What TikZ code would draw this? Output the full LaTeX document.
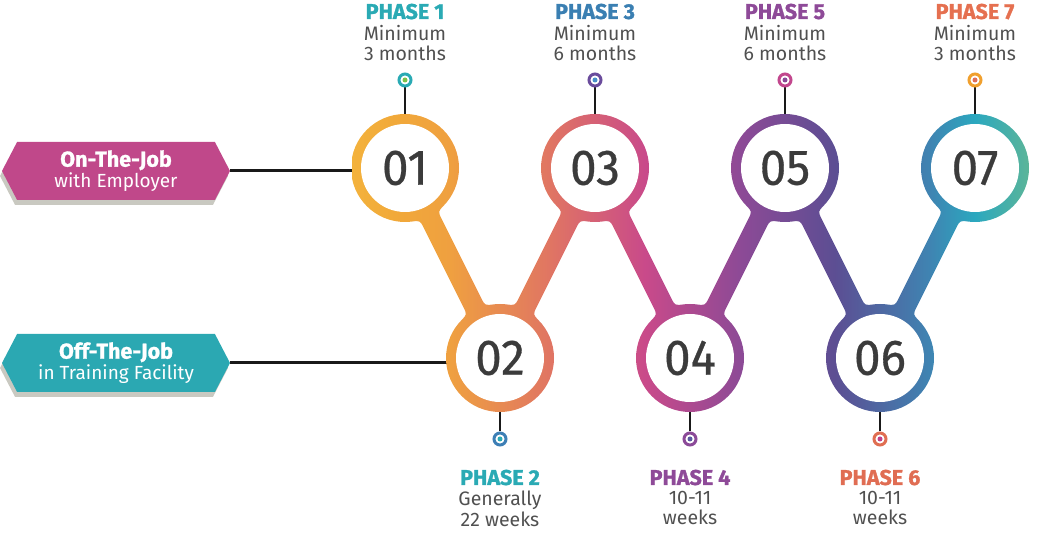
\documentclass[tikz,border=0pt]{standalone}
\usepackage{fontspec}
\setmainfont{Fira Sans}
\newfontfamily\numfont{Fira Sans}[FakeStretch=0.95,FakeBold=0.6]
\newfontfamily\headfont{Fira Sans}[FakeBold=1.2]
\usetikzlibrary{calc,shapes.symbols,shadows}
\pgfdeclarelayer{bg}
\pgfsetlayers{bg,main}
\definecolor{r0}{HTML}{F3B23C}
\definecolor{r1}{HTML}{F1A83A}
\definecolor{r2}{HTML}{EFA040}
\definecolor{r3}{HTML}{E07563}
\definecolor{r4}{HTML}{C94A8A}
\definecolor{r5}{HTML}{8D4A96}
\definecolor{r6}{HTML}{5C4E93}
\definecolor{r7}{HTML}{3F84B2}
\definecolor{r8}{HTML}{2BA8BF}
\definecolor{r9}{HTML}{5CB598}
\definecolor{hteal}{HTML}{2AAAB4}
\definecolor{hblue}{HTML}{3A7FB2}
\definecolor{hpurple}{HTML}{8E4A98}
\definecolor{hsalmon}{HTML}{E57050}
\definecolor{hsalmonb}{HTML}{E06D53}
\definecolor{descgray}{HTML}{505050}
\definecolor{numgray}{HTML}{3B3B3B}
\definecolor{tagmag}{HTML}{C0488A}
\definecolor{tagteal}{HTML}{2BA8B2}
\definecolor{shadowc}{HTML}{C9C9C1}
\definecolor{dgreen}{HTML}{7DC24B}
\definecolor{dblue}{HTML}{3D7FB5}
\definecolor{dlblue}{HTML}{4A90C8}
\definecolor{dpurple}{HTML}{6A4C9C}
\definecolor{dmag}{HTML}{C2478D}
\definecolor{dpurple2}{HTML}{8B4A98}
\definecolor{dindigo}{HTML}{5A5AA0}
\definecolor{dorange}{HTML}{F0A02E}
\definecolor{dsalmon}{HTML}{E0705A}
\definecolor{dsalmon2}{HTML}{E06E52}
\definecolor{dmag2}{HTML}{C0408A}
\pgfdeclarehorizontalshading{ring}{100bp}{color(0bp)=(r0); color(25bp)=(r0); color(28.54bp)=(r1); color(32.23bp)=(r2); color(39.6bp)=(r3); color(46.61bp)=(r4); color(53.61bp)=(r5); color(60.62bp)=(r6); color(67.63bp)=(r7); color(70.94bp)=(r8); color(75bp)=(r9); color(100bp)=(r9)}
\begin{document}
\begin{tikzpicture}[x=1pt,y=1pt,
  num/.style={circle, fill=white, minimum size=88pt, inner sep=0pt, text=numgray, font=\numfont\fontsize{50}{50}\selectfont},
  head/.style={font=\headfont\bfseries\fontsize{21.5}{21.5}\selectfont, anchor=base, inner sep=0pt},
  desc/.style={font=\fontsize{19.5}{20.5}\selectfont, text=descgray, align=center, anchor=north, inner sep=0pt},
  dotm/.style 2 args={circle, draw=#1, line width=3pt, fill=white, minimum size=12pt, inner sep=0pt,
    path picture={\fill[#2] (path picture bounding box.center) circle (2.5pt);}},
  stem/.style={draw=black!90, line width=2.5pt},
  sideline/.style={draw=black!90, line width=3pt},
  tag/.style={signal, signal to=east and west, signal pointer angle=125, minimum width=228pt, minimum height=58pt,
    inner sep=0pt, text=white, align=center, font=\fontsize{19}{21}\selectfont,
    drop shadow={shadow xshift=-2pt, shadow yshift=-5pt, fill=shadowc, opacity=1}}
]
\useasboundingbox (0,0) rectangle (1050,540);
\coordinate (T1) at (405,372);
\coordinate (B2) at (500,182);
\coordinate (T3) at (595,372);
\coordinate (B4) at (690,182);
\coordinate (T5) at (785,372);
\coordinate (B6) at (880,182);
\coordinate (T7) at (975,372);

% ring path with bands and fillets
\begin{scope}
\clip
  \foreach \c in {T1,B2,T3,B4,T5,B6,T7}{ ($(\c)+(54,0)$) arc[start angle=0,end angle=360,radius=54] }
  \foreach \a/\b in {T1/B2,B2/T3,T3/B4,B4/T5,T5/B6,B6/T7}{
    ($(\a)!10pt!-90:(\b)$) -- ($(\b)!10pt!90:(\a)$) -- ($(\b)!10pt!-90:(\a)$) -- ($(\a)!10pt!90:(\b)$) -- cycle }
  \foreach \c/\t in {T1/-63.435,B2/116.565,B2/63.435,T3/243.435,T3/-63.435,B4/116.565,B4/63.435,T5/243.435,T5/-63.435,B6/116.565,B6/63.435,T7/243.435}{
    (\c) -- ($(\c)+(\t:50.91)+({\t-90}:18)$) .. controls ($(\c)+(\t:53.73)+({\t-90}:10)$) .. ($(\c)+(\t:62.23)+({\t-90}:10)$) -- cycle
    (\c) -- ($(\c)+(\t:62.23)+({\t+90}:10)$) .. controls ($(\c)+(\t:53.73)+({\t+90}:10)$) .. ($(\c)+(\t:50.91)+({\t+90}:18)$) -- cycle };
\shade[shading=ring] (352,0) rectangle (1030,540);
\end{scope}

% number circles
\node[num] (n01) at (T1) {01};
\node[num] (n02) at (B2) {02};
\node[num] (n03) at (T3) {03};
\node[num] (n04) at (B4) {04};
\node[num] (n05) at (T5) {05};
\node[num] (n06) at (B6) {06};
\node[num] (n07) at (T7) {07};

% markers
\node[dotm={hteal}{dgreen}] (d1) at (405,460) {};
\node[dotm={dblue}{hteal}] (d2) at (500,101) {};
\node[dotm={dpurple}{dlblue}] (d3) at (595,460) {};
\node[dotm={dpurple2}{dindigo}] (d4) at (690,101) {};
\node[dotm={dmag}{dpurple2}] (d5) at (785,460) {};
\node[dotm={dsalmon2}{dmag2}] (d6) at (880,101) {};
\node[dotm={dorange}{dsalmon}] (d7) at (975,460) {};

% phase texts
\node[head,text=hteal] (h1) at (405,521) {PHASE 1};
\node[desc] (t1) at (405,515) {Minimum\\3 months};
\node[head,text=hblue] (h3) at (595,521) {PHASE 3};
\node[desc] (t3) at (595,515) {Minimum\\6 months};
\node[head,text=hpurple] (h5) at (785,521) {PHASE 5};
\node[desc] (t5) at (785,515) {Minimum\\6 months};
\node[head,text=hsalmon] (h7) at (975,521) {PHASE 7};
\node[desc] (t7) at (975,515) {Minimum\\3 months};
\node[head,text=hteal] (h2) at (500,55) {PHASE 2};
\node[desc] (t2) at (500,49) {Generally\\22 weeks};
\node[head,text=hpurple] (h4) at (690,55) {PHASE 4};
\node[desc] (t4) at (690,49) {10-11\\weeks};
\node[head,text=hsalmonb] (h6) at (880,55) {PHASE 6};
\node[desc] (t6) at (880,49) {10-11\\weeks};

% side tags
\node[tag, fill=tagmag] (Lon) at (116,369) {{\headfont\bfseries\fontsize{21.5}{21}\selectfont On-The-Job}\\with Employer};
\node[tag, fill=tagteal] (Loff) at (116,177) {{\headfont\bfseries\fontsize{21.5}{21}\selectfont Off-The-Job}\\in Training Facility};

\begin{pgfonlayer}{bg}
\draw[stem] (d1) -- (n01);
\draw[stem] (d2) -- (n02);
\draw[stem] (d3) -- (n03);
\draw[stem] (d4) -- (n04);
\draw[stem] (d5) -- (n05);
\draw[stem] (d6) -- (n06);
\draw[stem] (d7) -- (n07);
\draw[sideline] (Lon.east) -- (Lon.east -| n01.west);
\draw[sideline] (Loff.east) -- (Loff.east -| n02.west);
\end{pgfonlayer}
\end{tikzpicture}
\end{document}
